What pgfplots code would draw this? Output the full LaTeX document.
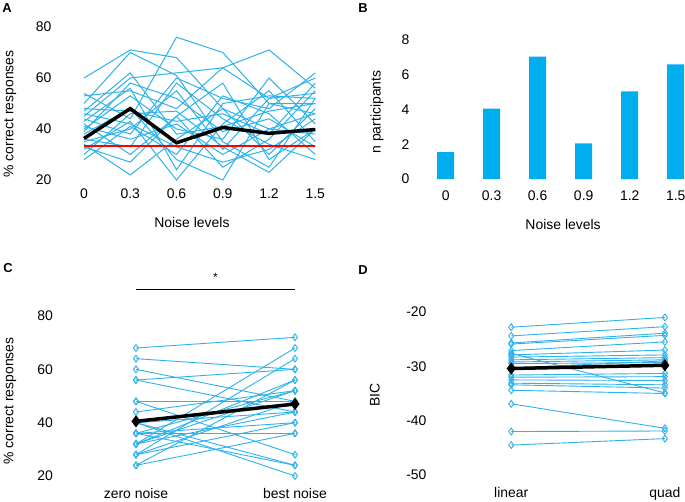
\documentclass[border=0pt]{standalone}
\usepackage{pgfplots}
\pgfplotsset{compat=1.18}
\usepackage{fontspec}
\setmainfont{Liberation Sans}
\definecolor{lineblue}{RGB}{45,178,235}
\definecolor{barblue}{RGB}{0,174,239}
\pgfplotsset{
  myaxis/.style={scale only axis, axis line style={draw=none}, tick style={draw=none}, major tick length=0pt, clip=false,
    tick label style={font=\fontsize{14}{14}\selectfont},
    label style={font=\fontsize{14}{14}\selectfont},
    /pgf/number format/assume math mode=true},
  pline/.style={lineblue, line width=1bp, mark=none},
  dline/.style={lineblue, line width=0.9bp, mark=diamond, mark size=3.4bp, mark options={solid, fill=white, line width=0.9bp}},
}
\begin{document}
\begin{tikzpicture}
\useasboundingbox (0,0) rectangle (685bp,-502bp);
\fill[white] (0,0) rectangle (685bp,-502bp);
% ---------------- A
\begin{axis}[myaxis, at={(55bp,-180bp)}, anchor=south west, width=260.3bp, height=153bp,
  xmin=-0.188, xmax=1.5, ymin=20, ymax=80,
  xtick={0,0.3,0.6,0.9,1.2,1.5}, xticklabels={0,0.3,0.6,0.9,1.2,1.5}, ytick={20,40,60,80},
  xticklabel shift=5bp,
  xlabel={Noise levels}, ylabel={\% correct responses},
  xlabel style={at={(axis description cs:0.526,-0.275)},anchor=center},
  ylabel style={at={(axis description cs:-0.173,0.431)},anchor=center}]
\addplot[pline] coordinates {(0,60)(0.3,71)(0.6,68)(0.9,48)(1.2,40)(1.5,38)};
\addplot[pline] coordinates {(0,54)(0.3,44)(0.6,76)(0.9,70)(1.2,50)(1.5,46)};
\addplot[pline] coordinates {(0,53)(0.3,55)(0.6,48)(0.9,64)(1.2,71)(1.5,56)};
\addplot[pline] coordinates {(0,50)(0.3,70)(0.6,61)(0.9,35)(1.2,25)(1.5,52)};
\addplot[pline] coordinates {(0,45)(0.3,60)(0.6,62)(0.9,64)(1.2,52)(1.5,60)};
\addplot[pline] coordinates {(0,44)(0.3,38)(0.6,60)(0.9,52)(1.2,48)(1.5,62)};
\addplot[pline] coordinates {(0,42)(0.3,30)(0.6,45)(0.9,25)(1.2,36)(1.5,55)};
\addplot[pline] coordinates {(0,40)(0.3,53)(0.6,40)(0.9,36)(1.2,60)(1.5,42)};
\addplot[pline] coordinates {(0,38)(0.3,48)(0.6,28)(0.9,20)(1.2,50)(1.5,50)};
\addplot[pline] coordinates {(0,34)(0.3,22)(0.6,36)(0.9,48)(1.2,30)(1.5,48)};
\addplot[pline] coordinates {(0,32)(0.3,43)(0.6,20)(0.9,42)(1.2,55)(1.5,35)};
\addplot[pline] coordinates {(0,30)(0.3,46)(0.6,47)(0.9,33)(1.2,23)(1.5,40)};
\addplot[pline] coordinates {(0,28)(0.3,41)(0.6,30)(0.9,53)(1.2,46)(1.5,30)};
\addplot[pline] coordinates {(0,36)(0.3,33)(0.6,58)(0.9,44)(1.2,34)(1.5,28)};
\addplot[pline] coordinates {(0,46)(0.3,42)(0.6,33)(0.9,27)(1.2,32)(1.5,44)};
\addplot[pline] coordinates {(0,43)(0.3,56)(0.6,24)(0.9,50)(1.2,53)(1.5,52)};
\addplot[pline] coordinates {(0,41)(0.3,36)(0.6,42)(0.9,30)(1.2,40)(1.5,46)};
\addplot[pline] coordinates {(0,39)(0.3,58)(0.6,52)(0.9,39)(1.2,44)(1.5,33)};
\addplot[pline] coordinates {(0,48)(0.3,47)(0.6,43)(0.9,46)(1.2,38)(1.5,58)};
\addplot[pline] coordinates {(0,35)(0.3,40)(0.6,55)(0.9,32)(1.2,52)(1.5,54)};
\addplot[pline] coordinates {(0,33)(0.3,27)(0.6,45)(0.9,58)(1.2,28)(1.5,40)};
\addplot[pline] coordinates {(0,47)(0.3,62)(0.6,38)(0.9,41)(1.2,47)(1.5,50)};
\addplot[red, line width=1.6bp, mark=none] coordinates {(0,33.3)(1.5,33.3)};
\addplot[black, line width=3.5bp, mark=none] coordinates {(0,36.3)(0.3,48)(0.6,34.6)(0.9,40.6)(1.2,38.3)(1.5,39.8)};
\end{axis}
% ---------------- B
\begin{axis}[myaxis, at={(413bp,-179bp)}, anchor=south west, width=271.9bp, height=139bp,
  xmin=-0.71, xmax=5.2, ymin=0, ymax=8, ybar, bar width=17bp,
  xtick={0,1,2,3,4,5}, xticklabels={0,0.3,0.6,0.9,1.2,1.5}, ytick={0,2,4,6,8},
  xticklabel shift=8bp,
  xlabel={Noise levels}, ylabel={n participants},
  xlabel style={at={(axis description cs:0.552,-0.331)},anchor=center},
  ylabel style={at={(axis description cs:-0.132,0.482)},anchor=center}]
\addplot[fill=barblue, draw=none] coordinates {(0,1.55)(1,4.05)(2,7.05)(3,2.05)(4,5.05)(5,6.6)};
\end{axis}
% ---------------- C
\begin{axis}[myaxis, at={(56.5bp,-476bp)}, anchor=south west, width=318bp, height=160bp,
  xmin=-0.5, xmax=1.5, ymin=20, ymax=80,
  xtick={0,1}, xticklabels={zero noise,best noise}, ytick={20,40,60,80},
  xticklabel shift=9bp,
  ylabel={\% correct responses},
  ylabel style={at={(axis description cs:-0.146,0.469)},anchor=center}]
\addplot[dline] coordinates {(0,68)(1,72)};
\addplot[dline] coordinates {(0,64)(1,60)};
\addplot[dline] coordinates {(0,60)(1,48)};
\addplot[dline] coordinates {(0,56)(1,60)};
\addplot[dline] coordinates {(0,56)(1,44)};
\addplot[dline] coordinates {(0,48)(1,48)};
\addplot[dline] coordinates {(0,48)(1,28)};
\addplot[dline] coordinates {(0,44)(1,52)};
\addplot[dline] coordinates {(0,40)(1,44)};
\addplot[dline] coordinates {(0,40)(1,24)};
\addplot[dline] coordinates {(0,40)(1,20)};
\addplot[dline] coordinates {(0,36)(1,52)};
\addplot[dline] coordinates {(0,36)(1,40)};
\addplot[dline] coordinates {(0,36)(1,36)};
\addplot[dline] coordinates {(0,32)(1,68)};
\addplot[dline] coordinates {(0,32)(1,44)};
\addplot[dline] coordinates {(0,32)(1,56)};
\addplot[dline] coordinates {(0,28)(1,64)};
\addplot[dline] coordinates {(0,28)(1,40)};
\addplot[dline] coordinates {(0,24)(1,56)};
\addplot[dline] coordinates {(0,24)(1,36)};
\addplot[dline] coordinates {(0,36)(1,24)};
\addplot[dline] coordinates {(0,32)(1,52)};
\addplot[dline] coordinates {(0,28)(1,48)};
\addplot[black, line width=3.5bp, mark=diamond*, mark size=3.2bp] coordinates {(0,40.5)(1,47)};
\addplot[black, line width=1.1bp, mark=none] coordinates {(0,89.8)(1,89.8)};
\node[font=\fontsize{12}{12}\selectfont] at (axis cs:0.5,94.5) {*};
\end{axis}
% ---------------- D
\begin{axis}[myaxis, at={(430bp,-475bp)}, anchor=south west, width=252.7bp, height=163bp,
  xmin=-0.529, xmax=1.116, ymin=-50, ymax=-20,
  xtick={0,1}, xticklabels={linear,quad}, ytick={-50,-40,-30,-20},
  xticklabel shift=9bp,
  ylabel={BIC},
  ylabel style={at={(axis description cs:-0.218,0.491)},anchor=center}]
\addplot[dline] coordinates {(0,-22.8)(1,-21.0)};
\addplot[dline] coordinates {(0,-24.4)(1,-22.7)};
\addplot[dline] coordinates {(0,-25.7)(1,-23.9)};
\addplot[dline] coordinates {(0,-25.9)(1,-24.3)};
\addplot[dline] coordinates {(0,-27.1)(1,-25.5)};
\addplot[dline] coordinates {(0,-27.6)(1,-34.9)};
\addplot[dline] coordinates {(0,-27.9)(1,-27.0)};
\addplot[dline] coordinates {(0,-28.3)(1,-27.9)};
\addplot[dline] coordinates {(0,-28.8)(1,-28.4)};
\addplot[dline] coordinates {(0,-29.2)(1,-28.8)};
\addplot[dline] coordinates {(0,-29.5)(1,-29.3)};
\addplot[dline] coordinates {(0,-30.3)(1,-29.0)};
\addplot[dline] coordinates {(0,-31.6)(1,-31.3)};
\addplot[dline] coordinates {(0,-32.0)(1,-31.9)};
\addplot[dline] coordinates {(0,-32.5)(1,-32.6)};
\addplot[dline] coordinates {(0,-33.1)(1,-33.4)};
\addplot[dline] coordinates {(0,-33.4)(1,-34.0)};
\addplot[dline] coordinates {(0,-34.4)(1,-35.0)};
\addplot[dline] coordinates {(0,-36.9)(1,-41.4)};
\addplot[dline] coordinates {(0,-42.0)(1,-41.9)};
\addplot[dline] coordinates {(0,-44.5)(1,-43.3)};
\addplot[black, line width=3.5bp, mark=diamond*, mark size=3.2bp] coordinates {(0,-30.4)(1,-29.8)};
\end{axis}
% panel letters
\node[font=\bfseries\fontsize{13}{13}\selectfont] at (7bp,-8bp) {A};
\node[font=\bfseries\fontsize{13}{13}\selectfont] at (363bp,-8bp) {B};
\node[font=\bfseries\fontsize{13}{13}\selectfont] at (8bp,-268bp) {C};
\node[font=\bfseries\fontsize{13}{13}\selectfont] at (363bp,-270bp) {D};
\end{tikzpicture}
\end{document}
